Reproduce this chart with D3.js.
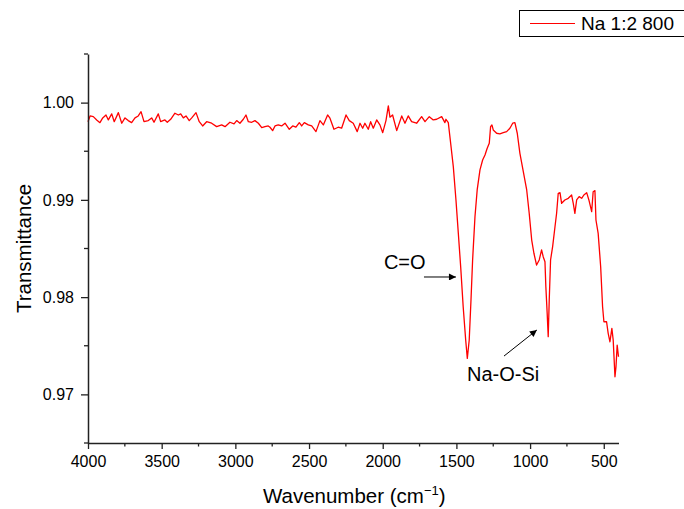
<!DOCTYPE html>
<html><head><meta charset="utf-8">
<script src="https://cdn.jsdelivr.net/npm/d3@7"></script>
<style>html,body{margin:0;padding:0;background:#fff;}svg{display:block;font-family:"Liberation Sans",Arial,sans-serif;}</style>
</head><body>
<svg id="c" width="684" height="509"></svg>
<script>
const seriesName = "Na 1:2 800";
const xTicks = [4000, 3500, 3000, 2500, 2000, 1500, 1000, 500];
const yTicks = [0.97, 0.98, 0.99, 1.00];
const wavenumber = [
4000,3986,3964,3941,3919,3900,3878,3862,3839,3822,3794,3771,3749,3727,3704,3681,3659,3640,3620,3591,
3568,3552,3523,3507,3478,3462,3439,3410,3387,3371,3353,3335,3313,3296,3267,3245,3222,3195,3161,3127,
3093,3070,3037,3009,2991,2969,2946,2928,2912,2889,2867,2844,2821,2799,2777,
2765,2747,2731,2709,2686,2663,2634,2611,2589,2566,2550,2532,2505,2482,2453,2426,2403,2374,2358,2331,
2302,2279,2249,2227,2200,2173,2154,2136,2121,2098,2082,2064,2041,2019,2000,1978,1962,1951,1933,1905,
1871,1849,1827,1804,1770,1736,1713,1684,1657,1634,1600,1578,
1571,1555,1539,1521,1503,1487,1471,1454,1437,1426,1413,1401,1390,1374,1359,1340,1322,1306,1291,1277,
1268,1259,1250,1227,1205,1182,1159,1137,1118,1103,1087,1069,1046,1023,1006,989,974,956,938,922,
911,899,893,884,877,870,861,847,831,820,809,797,786,764,741,718,707,696,684,667,
650,635,616,601,582,572,560,553,538,521,508,499,481,470,458,445,436,424,417,409,400];
const transmittance = [
.99804,.99863,.99856,.99822,.99794,.99843,.99873,.99822,.99884,.99804,.99897,.99788,.99843,.99815,.99794,.99843,.99863,.99907,.99804,.99815,
.99843,.99798,.99884,.99804,.99822,.99798,.99829,.99891,.99873,.99884,.99843,.99863,.99815,.99843,.99897,.99804,.9976,.99804,.99788,.99753,
.99771,.99753,.99798,.99781,.99815,.99788,.99829,.99873,.99804,.99798,.99815,.99788,.99743,.99753,.9976,
.99747,.99712,.9976,.99771,.9976,.99788,.99726,.9976,.99747,.99794,.9976,.99794,.99771,.9976,.99702,.99815,.99771,.99873,.9984,.99726,
.99747,.99737,.99873,.99815,.99788,.99702,.99788,.99737,.99788,.99726,.99804,.99737,.99822,.99771,.99691,.99815,.99966,.9985,.99873,.99712,
.99863,.99788,.99863,.99804,.99788,.99856,.99804,.99856,.99822,.99829,.99856,.99794,
.99829,.99794,.99582,.99342,.98999,.98656,.98313,.97901,.97559,.9737,.97559,.9797,.98382,.98827,.99102,.99308,.9941,.99462,.99531,.99582,
.99753,.99771,.99719,.99685,.99678,.99691,.99702,.99737,.99788,.99794,.99685,.99479,.9929,.99102,.98862,.98587,.98451,.9833,.98382,.98485,
.98416,.98364,.98107,.97833,.97593,.9797,.98382,.98519,.98724,.98862,.99068,.99074,.98965,.98999,.99016,.9905,.98965,.98862,.98999,.99033,
.99016,.9905,.99074,.98999,.98879,.99084,.99095,.98793,.98656,.98313,.97901,.97747,.97747,.97628,.97541,.97679,.97559,.97181,.97284,.97507,.97387];
const annotations = [
  {label:"C=O", tx:1992, ty:0.98289, x1:1720, y1:0.98207, x2:1503, y2:0.98207},
  {label:"Na-O-Si", tx:1428, ty:0.97137, x1:1177, y1:0.97394, x2:954, y2:0.97662}
];

const svg = d3.select("#c");
const L = 88, R = 618.5, T = 54, B = 443;
const x = d3.scaleLinear().domain([4000, 400]).range([L, R]);
const y = d3.scaleLinear().domain([0.965, 1.005]).range([B, T]);
const axisColor = "#222";

svg.append("defs").append("marker").attr("id","ah").attr("viewBox","0 0 10 10")
  .attr("refX",10).attr("refY",5).attr("markerWidth",11).attr("markerHeight",7)
  .attr("markerUnits","userSpaceOnUse").attr("orient","auto")
  .append("path").attr("d","M0,0 L10,5 L0,10 z").attr("fill","#000");

const data = wavenumber.map((w,i)=>({w, t: transmittance[i]}));
svg.append("path").datum(data)
  .attr("fill","none").attr("stroke","#ff0000").attr("stroke-width",1.3)
  .attr("stroke-linejoin","round")
  .attr("d", d3.line().x(d=>x(d.w)).y(d=>y(d.t)));

const xMinor = d3.range(3750, 400, -500);
const gx = svg.append("g").attr("transform",`translate(0,${B})`);
gx.call(d3.axisBottom(x).tickValues(xTicks).tickFormat(d3.format("d")).tickSizeInner(6).tickSizeOuter(0).tickPadding(7));
gx.selectAll(".tick text").attr("font-size",16).attr("fill","#000").attr("font-family","Liberation Sans, Arial, sans-serif");
gx.selectAll(".tick line").attr("stroke",axisColor).attr("stroke-width",1.3);
gx.select(".domain").attr("stroke",axisColor).attr("stroke-width",1.5);
gx.selectAll(".minor").data(xMinor).enter().append("line").attr("class","minor")
  .attr("x1",d=>x(d)).attr("x2",d=>x(d)).attr("y1",0).attr("y2",3.5)
  .attr("stroke",axisColor).attr("stroke-width",1.3);

const yMinor = [0.965,0.975,0.985,0.995,1.005];
const gy = svg.append("g").attr("transform",`translate(${L},0)`);
gy.call(d3.axisLeft(y).tickValues(yTicks).tickFormat(d3.format(".2f")).tickSizeInner(7).tickSizeOuter(0).tickPadding(7));
gy.selectAll(".tick text").attr("font-size",16).attr("fill","#000").attr("font-family","Liberation Sans, Arial, sans-serif");
gy.selectAll(".tick line").attr("stroke",axisColor).attr("stroke-width",1.3);
gy.select(".domain").attr("stroke",axisColor).attr("stroke-width",1.5);
gy.selectAll(".minor").data(yMinor).enter().append("line").attr("class","minor")
  .attr("y1",d=>y(d)).attr("y2",d=>y(d)).attr("x1",0).attr("x2",-4)
  .attr("stroke",axisColor).attr("stroke-width",1.3);

const xt = svg.append("text").attr("x",(L+R)/2+1).attr("y",503).attr("text-anchor","middle")
  .attr("font-size",20.5).attr("fill","#000");
xt.append("tspan").text("Wavenumber (cm");
xt.append("tspan").attr("font-size",13).attr("dy",-8).text("\u22121");
xt.append("tspan").attr("dy",8).text(")");

svg.append("text").attr("transform",`translate(31,${(T+B)/2}) rotate(-90)`)
  .attr("text-anchor","middle").attr("font-size",20.5).attr("fill","#000").text("Transmittance");

annotations.forEach(a=>{
  svg.append("text").attr("x",x(a.tx)).attr("y",y(a.ty)).attr("font-size",20).attr("fill","#000").text(a.label);
  svg.append("line").attr("x1",x(a.x1)).attr("y1",y(a.y1)).attr("x2",x(a.x2)).attr("y2",y(a.y2))
    .attr("stroke","#000").attr("stroke-width",1).attr("marker-end","url(#ah)");
});

const lg = svg.append("g");
lg.append("rect").attr("x",519.5).attr("y",10.5).attr("width",180).attr("height",26)
  .attr("fill","#fff").attr("stroke","#000").attr("stroke-width",1);
lg.append("line").attr("x1",530).attr("x2",575).attr("y1",23.5).attr("y2",23.5)
  .attr("stroke","#ff0000").attr("stroke-width",1.2);
lg.append("text").attr("x",581).attr("y",30).attr("font-size",19).attr("fill","#000").text(seriesName);
</script>
</body></html>
